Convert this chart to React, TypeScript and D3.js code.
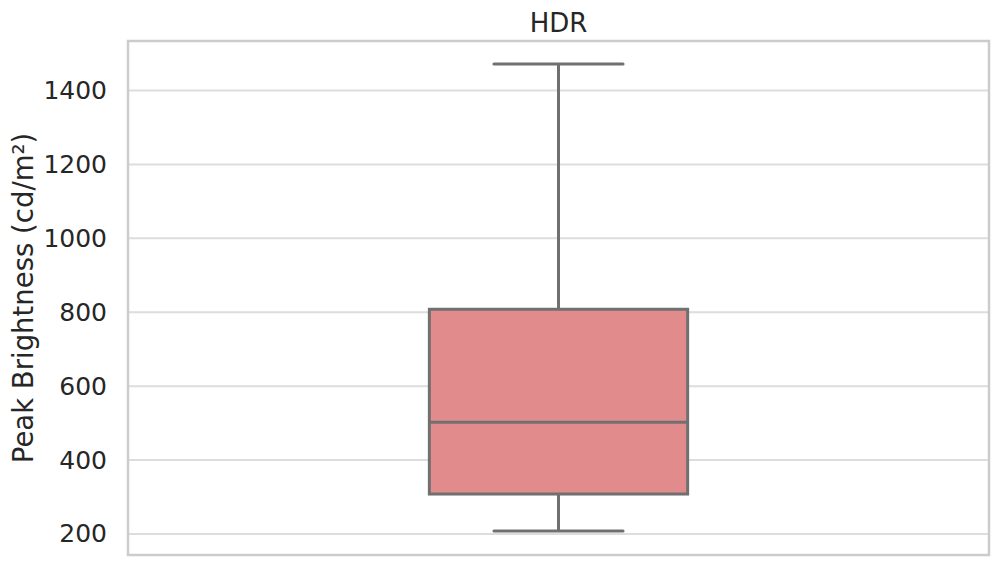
import { useEffect, useRef } from "react"
import * as d3 from "d3"

// box statistics
const categories = ["HDR"]
const whiskerLow = [208]
const q1 = [308]
const median = [502]
const q3 = [808]
const whiskerHigh = [1472]
const yTicks = [200, 400, 600, 800, 1000, 1200, 1400]

export default function App() {
  const ref = useRef<SVGSVGElement | null>(null)

  useEffect(() => {
    document.body.style.margin = "0"
    const svg = d3.select(ref.current)
    svg.selectAll("*").remove()

    const width = 1000
    const height = 566
    const margin = { top: 41, right: 11, bottom: 11, left: 128 }

    svg.attr("width", width).attr("height", height)
      .style("font-family", "'DejaVu Sans', sans-serif")

    const x = d3.scaleLinear()
      .domain([-0.5, 0.5])
      .range([margin.left, width - margin.right])

    const y = d3.scaleLinear()
      .domain([143, 1534])
      .range([height - margin.bottom, margin.top])

    // grid
    svg.append("g")
      .selectAll("line")
      .data(yTicks)
      .enter()
      .append("line")
      .attr("x1", margin.left)
      .attr("x2", width - margin.right)
      .attr("y1", d => y(d))
      .attr("y2", d => y(d))
      .attr("stroke", "#dddddd")
      .attr("stroke-width", 2)

    // Y Axis
    const yAxis = svg.append("g")
      .attr("transform", `translate(${margin.left},0)`)
      .call(d3.axisLeft(y).tickValues(yTicks).tickFormat(d3.format("d")).tickSize(0).tickPadding(21))

    yAxis.select(".domain").remove()
    yAxis.selectAll("text")
      .style("fill", "#262626")
      .style("font-size", "25px")
      .style("font-family", "'DejaVu Sans', sans-serif")

    // frame
    svg.append("rect")
      .attr("x", margin.left)
      .attr("y", margin.top)
      .attr("width", width - margin.left - margin.right)
      .attr("height", height - margin.top - margin.bottom)
      .attr("fill", "none")
      .attr("stroke", "#cccccc")
      .attr("stroke-width", 2.5)

    // boxes
    const boxW = 0.3
    const edge = "#707070"
    categories.forEach((c, i) => {
      const g = svg.append("g")
      const cx = 0
      g.append("line")
        .attr("x1", x(cx)).attr("x2", x(cx))
        .attr("y1", y(whiskerHigh[i])).attr("y2", y(q3[i]))
        .attr("stroke", edge).attr("stroke-width", 3)
      g.append("line")
        .attr("x1", x(cx)).attr("x2", x(cx))
        .attr("y1", y(q1[i])).attr("y2", y(whiskerLow[i]))
        .attr("stroke", edge).attr("stroke-width", 3)
      ;[whiskerHigh[i], whiskerLow[i]].forEach(v => {
        g.append("line")
          .attr("x1", x(cx - boxW / 4)).attr("x2", x(cx + boxW / 4))
          .attr("y1", y(v)).attr("y2", y(v))
          .attr("stroke", edge).attr("stroke-width", 3)
          .attr("stroke-linecap", "round")
      })
      g.append("rect")
        .attr("x", x(cx - boxW / 2))
        .attr("y", y(q3[i]))
        .attr("width", x(cx + boxW / 2) - x(cx - boxW / 2))
        .attr("height", y(q1[i]) - y(q3[i]))
        .attr("fill", "#e28b8d")
        .attr("stroke", edge)
        .attr("stroke-width", 3)
      g.append("line")
        .attr("x1", x(cx - boxW / 2)).attr("x2", x(cx + boxW / 2))
        .attr("y1", y(median[i])).attr("y2", y(median[i]))
        .attr("stroke", edge).attr("stroke-width", 3)

      // title
      svg.append("text")
        .attr("x", x(cx))
        .attr("y", 32)
        .attr("text-anchor", "middle")
        .style("font-size", "26px")
        .style("fill", "#262626")
        .text(c)
    })

    // y label
    svg.append("text")
      .attr("transform", `translate(33,${(margin.top + height - margin.bottom) / 2}) rotate(-90)`)
      .attr("text-anchor", "middle")
      .style("font-size", "27.5px")
      .style("fill", "#262626")
      .text("Peak Brightness (cd/m²)")
  }, [])

  return <svg ref={ref} style={{ display: "block" }} />
}
